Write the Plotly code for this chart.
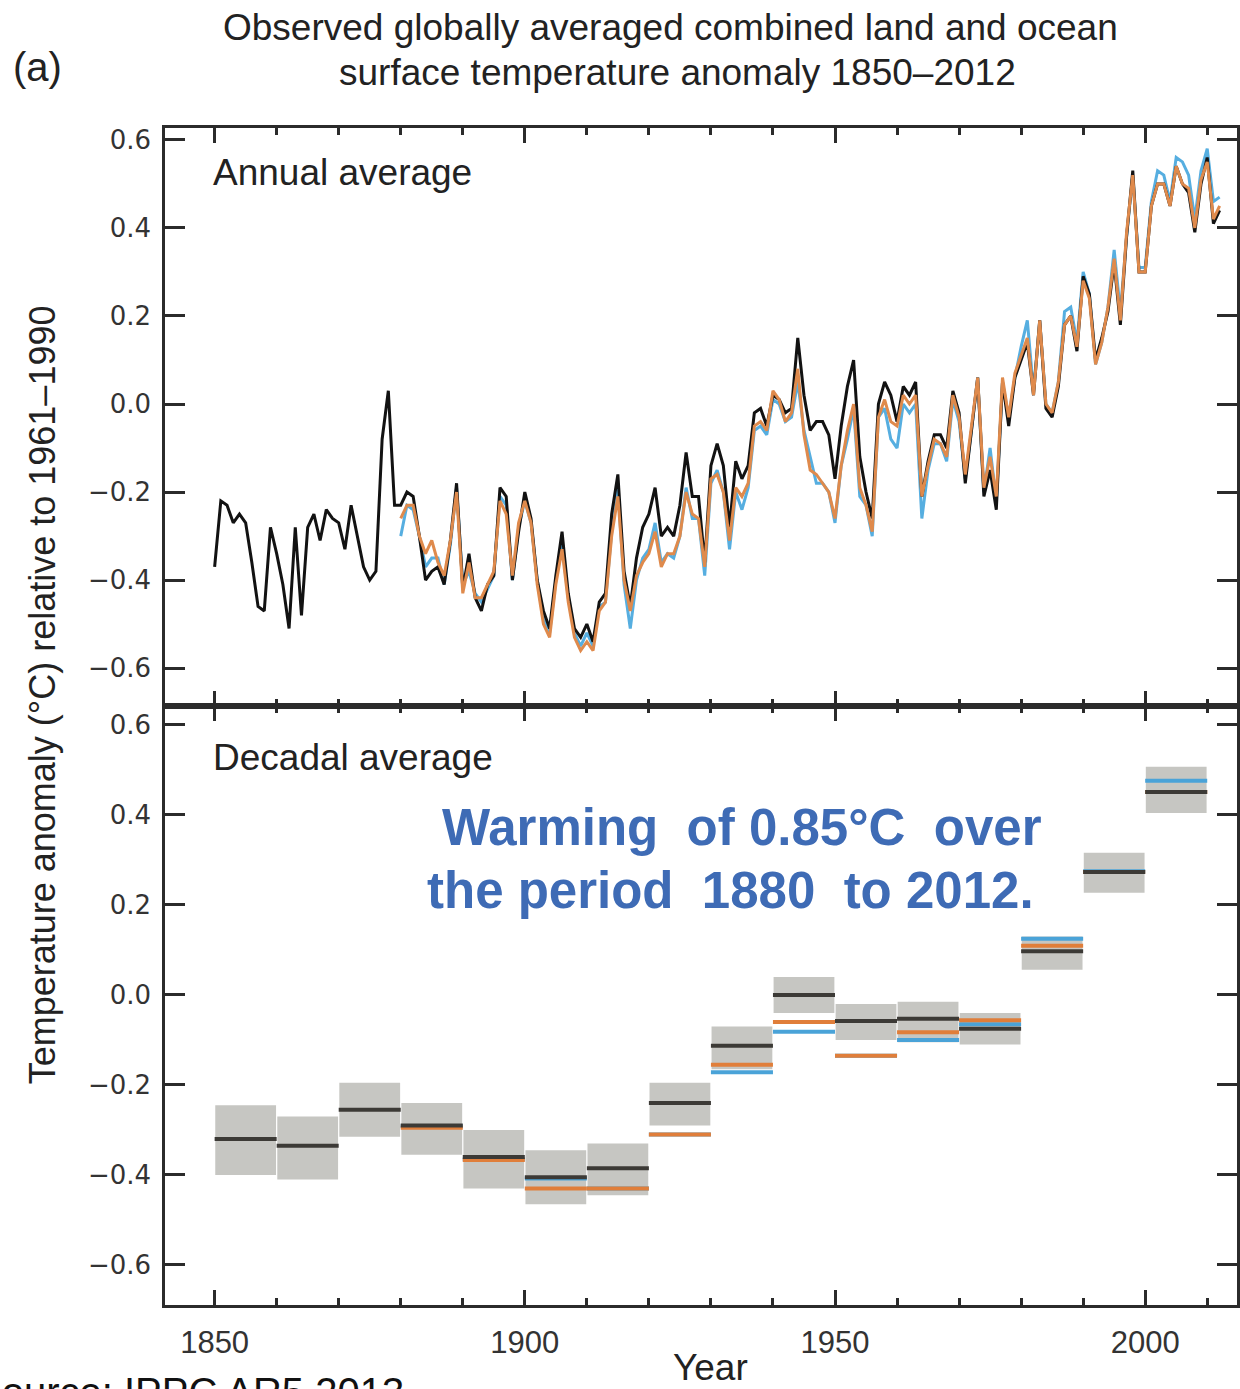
import plotly.graph_objects as go

# ---------------- data ----------------
years_had = list(range(1850, 2013))
hadcrut = [
    -0.37, -0.22, -0.23, -0.27, -0.25, -0.27, -0.36, -0.46, -0.47, -0.28,
    -0.34, -0.41, -0.51, -0.28, -0.48, -0.28, -0.25, -0.31, -0.24, -0.26,
    -0.27, -0.33, -0.23, -0.30, -0.37, -0.40, -0.38, -0.08, 0.03, -0.23,
    -0.23, -0.20, -0.21, -0.30, -0.40, -0.38, -0.37, -0.41, -0.31, -0.18,
    -0.42, -0.34, -0.44, -0.47, -0.41, -0.39, -0.19, -0.21, -0.40, -0.29,
    -0.20, -0.26, -0.40, -0.47, -0.51, -0.39, -0.29, -0.43, -0.51, -0.53,
    -0.50, -0.54, -0.45, -0.43, -0.25, -0.16, -0.38, -0.46, -0.35, -0.28,
    -0.25, -0.19, -0.30, -0.28, -0.30, -0.23, -0.11, -0.21, -0.21, -0.36,
    -0.14, -0.09, -0.14, -0.28, -0.13, -0.17, -0.14, -0.02, -0.01, -0.05,
    0.02, 0.01, -0.02, -0.01, 0.15, 0.02, -0.06, -0.04, -0.04, -0.07,
    -0.17, -0.05, 0.04, 0.10, -0.12, -0.20, -0.26, 0.00, 0.05, 0.02,
    -0.04, 0.04, 0.02, 0.05, -0.21, -0.13, -0.07, -0.07, -0.10, 0.03,
    -0.02, -0.18, -0.06, 0.06, -0.21, -0.15, -0.24, 0.05, -0.05, 0.06,
    0.10, 0.14, 0.02, 0.19, -0.01, -0.03, 0.04, 0.18, 0.20, 0.12,
    0.29, 0.25, 0.10, 0.15, 0.21, 0.32, 0.18, 0.38, 0.53, 0.30,
    0.30, 0.45, 0.50, 0.50, 0.45, 0.54, 0.50, 0.48, 0.39, 0.50,
    0.56, 0.41, 0.44,
]

years_other = list(range(1880, 2013))
noaa = [
    -0.26, -0.23, -0.23, -0.30, -0.34, -0.31, -0.36, -0.39, -0.31, -0.20,
    -0.43, -0.36, -0.44, -0.44, -0.41, -0.38, -0.22, -0.25, -0.39, -0.27,
    -0.22, -0.27, -0.41, -0.50, -0.53, -0.41, -0.33, -0.45, -0.53, -0.56,
    -0.54, -0.56, -0.47, -0.45, -0.30, -0.21, -0.40, -0.47, -0.39, -0.36,
    -0.34, -0.29, -0.37, -0.34, -0.34, -0.30, -0.20, -0.25, -0.26, -0.37,
    -0.17, -0.16, -0.20, -0.31, -0.19, -0.21, -0.18, -0.05, -0.04, -0.06,
    0.03, 0.01, -0.04, -0.02, 0.08, -0.07, -0.15, -0.16, -0.18, -0.20,
    -0.26, -0.14, -0.06, 0.00, -0.19, -0.23, -0.29, -0.03, 0.01, -0.04,
    -0.05, 0.02, 0.00, 0.02, -0.21, -0.14, -0.08, -0.09, -0.12, 0.02,
    -0.03, -0.16, -0.05, 0.06, -0.19, -0.12, -0.21, 0.06, -0.03, 0.07,
    0.11, 0.15, 0.02, 0.19, 0.00, -0.02, 0.05, 0.18, 0.20, 0.13,
    0.28, 0.24, 0.09, 0.14, 0.22, 0.33, 0.19, 0.39, 0.52, 0.30,
    0.30, 0.45, 0.50, 0.50, 0.45, 0.54, 0.50, 0.49, 0.40, 0.51,
    0.55, 0.42, 0.45,
]
giss = [
    -0.30, -0.23, -0.24, -0.30, -0.37, -0.35, -0.35, -0.41, -0.32, -0.19,
    -0.41, -0.38, -0.43, -0.45, -0.42, -0.39, -0.21, -0.23, -0.40, -0.28,
    -0.22, -0.27, -0.40, -0.49, -0.52, -0.40, -0.32, -0.44, -0.52, -0.55,
    -0.52, -0.55, -0.46, -0.45, -0.29, -0.19, -0.41, -0.51, -0.40, -0.35,
    -0.33, -0.27, -0.36, -0.34, -0.35, -0.30, -0.19, -0.26, -0.26, -0.39,
    -0.18, -0.15, -0.20, -0.33, -0.20, -0.24, -0.19, -0.06, -0.05, -0.07,
    0.01, 0.00, -0.04, -0.03, 0.05, -0.06, -0.12, -0.18, -0.18, -0.20,
    -0.27, -0.14, -0.08, -0.01, -0.21, -0.23, -0.30, -0.03, -0.01, -0.08,
    -0.10, 0.00, -0.02, 0.00, -0.26, -0.15, -0.09, -0.09, -0.13, 0.01,
    -0.04, -0.17, -0.06, 0.06, -0.20, -0.10, -0.22, 0.05, -0.03, 0.06,
    0.13, 0.19, 0.03, 0.19, 0.00, -0.02, 0.05, 0.21, 0.22, 0.14,
    0.30, 0.25, 0.09, 0.14, 0.22, 0.35, 0.21, 0.38, 0.52, 0.31,
    0.31, 0.46, 0.53, 0.52, 0.46, 0.56, 0.55, 0.52, 0.42, 0.53,
    0.58, 0.46, 0.47,
]

decade_start = [1850, 1860, 1870, 1880, 1890, 1900, 1910, 1920,
                1930, 1940, 1950, 1960, 1970, 1980, 1990, 2000]
dec_had = [-0.320, -0.335, -0.255, -0.290, -0.360, -0.405, -0.385, -0.240,
           -0.113, 0.000, -0.058, -0.053, -0.075, 0.097, 0.273, 0.451]
dec_unc_low = [-0.400, -0.410, -0.315, -0.355, -0.430, -0.465, -0.445, -0.290,
               -0.165, -0.040, -0.100, -0.105, -0.110, 0.056, 0.227, 0.404]
dec_unc_high = [-0.245, -0.270, -0.195, -0.240, -0.300, -0.345, -0.330, -0.195,
                -0.070, 0.040, -0.020, -0.015, -0.040, 0.130, 0.316, 0.507]
decade_start_other = decade_start[3:]
dec_noaa = [-0.295, -0.367, -0.430, -0.430, -0.310, -0.155, -0.060, -0.135,
            -0.083, -0.056, 0.109, 0.273, 0.451]
dec_giss = [-0.292, -0.365, -0.408, -0.430, -0.310, -0.172, -0.082, -0.135,
            -0.100, -0.065, 0.125, 0.275, 0.476]

yticks = [-0.6, -0.4, -0.2, 0.0, 0.2, 0.4, 0.6]

# ---------------- styles ----------------
C_BLACK = "#121212"
C_ORANGE = "#DF8A4C"
C_BLUE = "#56AEE0"
C_DEC_BLACK = "#3c3a36"
C_DEC_ORANGE = "#E07E3A"
C_DEC_BLUE = "#4AA3D8"
C_BOX = "#C6C6C2"
AX = "#2b2b2b"
SANS = "Liberation Sans, Arial, sans-serif"


def steps(starts, vals, width=10):
    xs, ys = [], []
    for s, v in zip(starts, vals):
        xs += [s, s + width, None]
        ys += [v, v, None]
    return xs, ys


fig = go.Figure()

# annual panel
fig.add_trace(go.Scatter(x=years_other, y=giss, mode="lines",
                         line=dict(color=C_BLUE, width=3), xaxis="x", yaxis="y"))
fig.add_trace(go.Scatter(x=years_had, y=hadcrut, mode="lines",
                         line=dict(color=C_BLACK, width=3), xaxis="x", yaxis="y"))
fig.add_trace(go.Scatter(x=years_other, y=noaa, mode="lines",
                         line=dict(color=C_ORANGE, width=3), xaxis="x", yaxis="y"))

# decadal panel: uncertainty boxes
fig.add_trace(go.Bar(
    x=[s + 5 for s in decade_start],
    y=[h - l for h, l in zip(dec_unc_high, dec_unc_low)],
    base=dec_unc_low, width=9.8,
    marker=dict(color=C_BOX, line=dict(width=0)),
    xaxis="x2", yaxis="y2"))

for starts, vals, col in [(decade_start_other, dec_giss, C_DEC_BLUE),
                          (decade_start_other, dec_noaa, C_DEC_ORANGE),
                          (decade_start, dec_had, C_DEC_BLACK)]:
    xs, ys = steps(starts, vals)
    fig.add_trace(go.Scatter(x=xs, y=ys, mode="lines",
                             line=dict(color=col, width=4),
                             xaxis="x2", yaxis="y2"))

# ---------------- layout ----------------
W, H = 1240, 1389
L, R, T, B = 165, 0, 128, 84
PW, PH = W - L - R, H - T - B
split = (1305 - 706) / PH


def px(xp):
    return (xp - L) / PW


def py(yp):
    return (H - B - yp) / PH


xcommon = dict(range=[1842.0, 2014.8], tickvals=[1850, 1900, 1950, 2000],
               ticks="inside", ticklen=15, tickwidth=2.5, tickcolor=AX,
               showline=True, linecolor=AX, linewidth=2.5, mirror="allticks",
               showgrid=False, zeroline=False,
               minor=dict(dtick=10, tick0=1850, ticks="inside", ticklen=7,
                          tickwidth=2.5, tickcolor=AX, showgrid=False))
ycommon = dict(tickvals=yticks, tickformat=".1f", ticks="inside", ticklen=20,
               tickwidth=2.5, tickcolor=AX, showline=True, linecolor=AX,
               linewidth=2.5, mirror="allticks", showgrid=False, zeroline=False,
               tickfont=dict(family="DejaVu Sans, sans-serif", size=26, color="#333"),
               ticklabelstandoff=6)

fig.update_layout(
    width=W, height=H,
    margin=dict(l=L, r=R, t=T, b=B, pad=0),
    paper_bgcolor="white", plot_bgcolor="white",
    showlegend=False, barmode="overlay",
    xaxis=dict(**xcommon, anchor="y", domain=[0, 1], showticklabels=False),
    xaxis2=dict(**xcommon, anchor="y2", domain=[0, 1], matches="x",
                showticklabels=True,
                tickfont=dict(family=SANS, size=31, color="#333"),
                ticklabelstandoff=8),
    yaxis=dict(**ycommon, anchor="x", domain=[split, 1], range=[-0.686, 0.627]),
    yaxis2=dict(**ycommon, anchor="x2", domain=[0, split], range=[-0.689, 0.642]),
)

ann = []
ann.append(dict(text="Observed globally averaged combined land and ocean",
                x=px(672), y=py(27), xref="paper", yref="paper",
                showarrow=False, xanchor="center", yanchor="middle",
                font=dict(family=SANS, size=37, color="#222")))
ann.append(dict(text="surface temperature anomaly 1850–2012",
                x=px(679), y=py(72), xref="paper", yref="paper",
                showarrow=False, xanchor="center", yanchor="middle",
                font=dict(family=SANS, size=37, color="#222")))
ann.append(dict(text="(a)", x=px(37), y=py(67), xref="paper", yref="paper",
                showarrow=False, xanchor="center", yanchor="middle",
                font=dict(family=SANS, size=40, color="#222")))
ann.append(dict(text="Temperature anomaly (°C) relative to 1961–1990",
                x=px(42), y=py(695), xref="paper", yref="paper",
                showarrow=False, textangle=-90, xanchor="center", yanchor="middle",
                font=dict(family=SANS, size=36, color="#222")))
ann.append(dict(text="Annual average", x=px(211), y=py(172),
                xref="paper", yref="paper", showarrow=False,
                xanchor="left", yanchor="middle",
                font=dict(family=SANS, size=37, color="#222")))
ann.append(dict(text="Decadal average", x=px(211), y=py(757),
                xref="paper", yref="paper", showarrow=False,
                xanchor="left", yanchor="middle",
                font=dict(family=SANS, size=37, color="#222")))
ann.append(dict(text="<b>Warming  of 0.85°C  over</b>", x=px(744), y=py(828),
                xref="paper", yref="paper", showarrow=False,
                xanchor="center", yanchor="middle",
                font=dict(family=SANS, size=51, color="#3E6BB5")))
ann.append(dict(text="<b>the period  1880  to 2012.</b>", x=px(732), y=py(890),
                xref="paper", yref="paper", showarrow=False,
                xanchor="center", yanchor="middle",
                font=dict(family=SANS, size=51, color="#3E6BB5")))
ann.append(dict(text="Year", x=px(712), y=py(1367), xref="paper", yref="paper",
                showarrow=False, xanchor="center", yanchor="middle",
                font=dict(family=SANS, size=37, color="#222")))
ann.append(dict(text="Source: IPPC AR5 2013", x=px(-28), y=py(1392),
                xref="paper", yref="paper", showarrow=False,
                xanchor="left", yanchor="middle",
                font=dict(family=SANS, size=40, color="#111")))
fig.update_layout(annotations=ann)

fig.write_html("out.html")
